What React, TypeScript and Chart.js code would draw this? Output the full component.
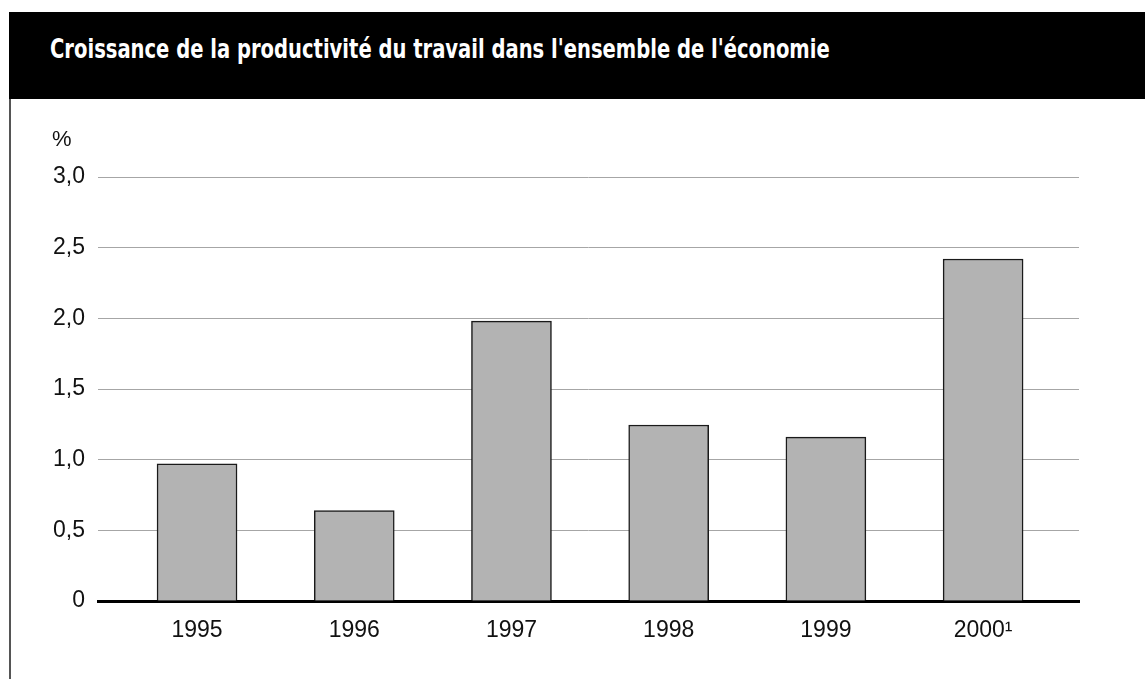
import React, { useEffect, useRef } from "react";
import { Chart, registerables } from "chart.js";

Chart.register(...registerables);

const title = "Croissance de la productivité du travail dans l'ensemble de l'économie";
const categories = ["1995", "1996", "1997", "1998", "1999", "2000¹"];
const values = [0.97, 0.64, 1.98, 1.245, 1.16, 2.42];
const yTickLabels = ["0", "0,5", "1,0", "1,5", "2,0", "2,5", "3,0"];
const yUnit = "%";

const FONT = "'Liberation Sans', Arial, sans-serif";

const unitPlugin = {
  id: "unitLabel",
  afterDraw(chart: any) {
    const ctx = chart.ctx;
    ctx.save();
    ctx.fillStyle = "#111";
    ctx.font = `22px ${FONT}`;
    ctx.textAlign = "left";
    ctx.textBaseline = "alphabetic";
    ctx.fillText(yUnit, 41, 47);
    ctx.restore();
  },
};

export default function App() {
  const ref = useRef<HTMLCanvasElement | null>(null);

  useEffect(() => {
    if (!ref.current) return;
    const chart = new Chart(ref.current, {
      type: "bar",
      data: {
        datasets: [
          {
            data: categories.map((_, i) => ({ x: i, y: values[i] })),
            backgroundColor: "#b3b3b3",
            borderColor: "#1a1a1a",
            borderWidth: 1.5,
            barThickness: 80,
          } as any,
        ],
      },
      options: {
        animation: false,
        responsive: false,
        maintainAspectRatio: false,
        layout: { padding: { top: 78, right: 66, left: 0, bottom: 0 } },
        plugins: {
          legend: { display: false },
          tooltip: { enabled: false },
          title: { display: false },
        },
        scales: {
          x: {
            type: "linear",
            offset: false,
            min: -0.63,
            max: 5.61,
            grid: { display: false, drawTicks: false, offset: false },
            border: { display: true, color: "#000", width: 3 },
            afterBuildTicks: (axis: any) => {
              axis.ticks = categories.map((_, i) => ({ value: i }));
            },
            afterFit: (scale: any) => {
              scale.height = 78;
            },
            ticks: {
              autoSkip: false,
              maxRotation: 0,
              padding: 16,
              color: "#111",
              font: { family: FONT, size: 23 },
              callback: (v: any) => categories[Math.round(Number(v))] ?? "",
            },
          },
          y: {
            min: 0,
            max: 3,
            grid: { color: "#a6a6a6", lineWidth: 1, drawTicks: false },
            border: { display: false },
            afterFit: (scale: any) => {
              scale.width = 87;
            },
            ticks: {
              stepSize: 0.5,
              padding: 13,
              color: "#111",
              font: { family: FONT, size: 23 },
              callback: (_v: any, i: number) => yTickLabels[i],
            },
          },
        },
      },
      plugins: [unitPlugin],
    } as any);
    return () => chart.destroy();
  }, []);

  return (
    <div
      style={{
        position: "fixed",
        left: 0,
        top: 0,
        width: 1145,
        height: 679,
        overflow: "hidden",
        background: "#fff",
      }}
    >
      <div
        style={{
          position: "absolute",
          left: 9,
          top: 12,
          width: 2,
          height: 667,
          background: "#555",
        }}
      />
      <div
        style={{
          position: "absolute",
          left: 9,
          top: 12,
          width: 1136,
          height: 87,
          background: "#000",
        }}
      >
        <div
          style={{
            position: "absolute",
            left: 41,
            top: 24,
            lineHeight: "26px",
            fontSize: 27,
            fontWeight: "bold",
            fontFamily: "'Liberation Sans Narrow', 'DejaVu Sans Condensed', sans-serif",
            color: "#fff",
            whiteSpace: "nowrap",
            transform: "scaleX(0.805)",
            transformOrigin: "left center",
          }}
        >
          {title}
        </div>
      </div>
      <canvas
        ref={ref}
        width={1134}
        height={580}
        style={{ position: "absolute", left: 11, top: 99, width: 1134, height: 580 }}
      />
    </div>
  );
}
